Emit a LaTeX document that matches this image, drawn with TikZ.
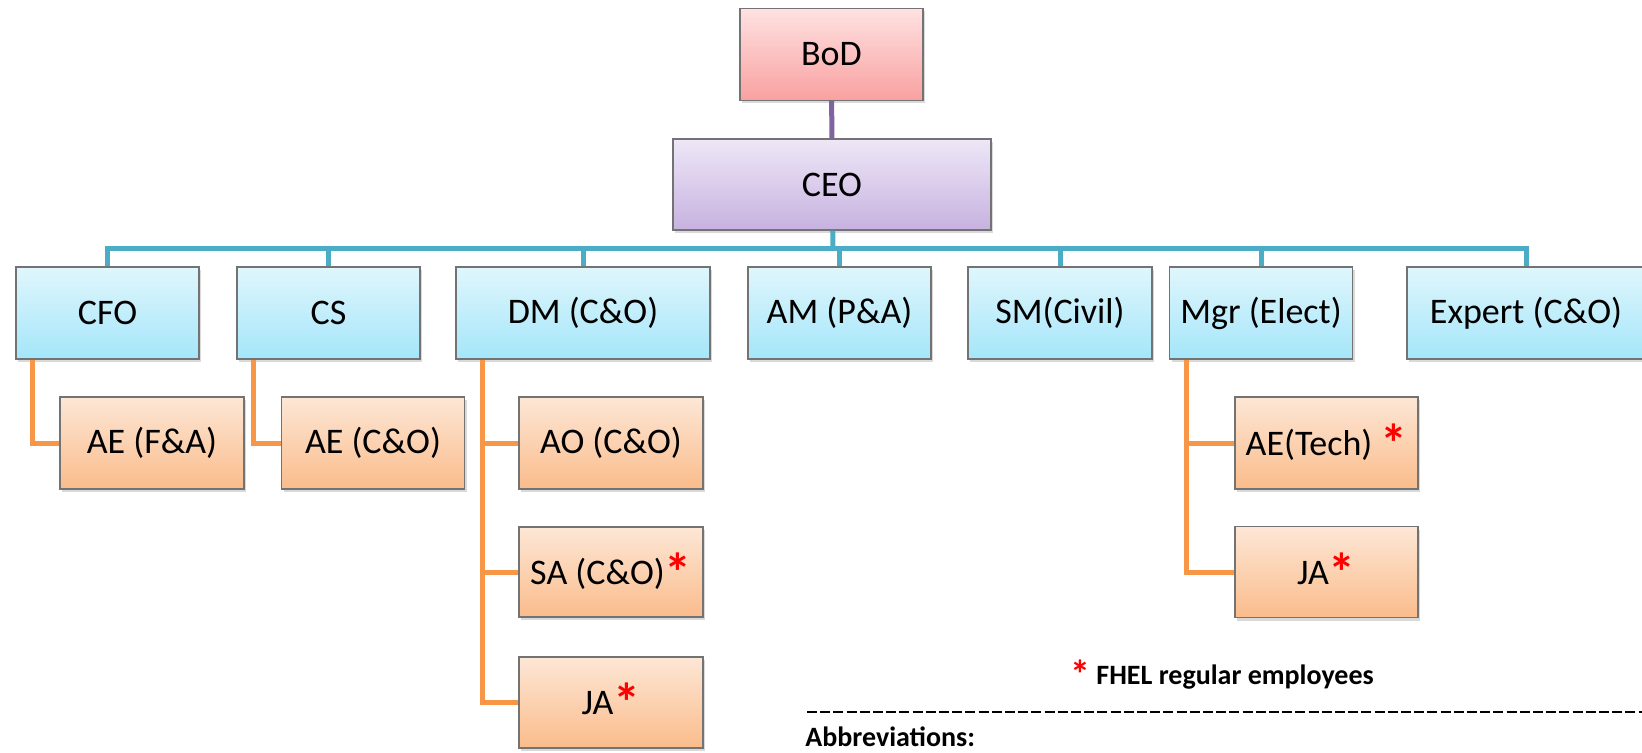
\documentclass[tikz,border=0pt]{standalone}
\usepackage{fontspec}
\setmainfont{Carlito}
\usetikzlibrary{shadows}
\definecolor{bodtop}{HTML}{FFE2E2}
\definecolor{bodbot}{HTML}{F9A0A0}
\definecolor{ceotop}{HTML}{EEE7F7}
\definecolor{ceobot}{HTML}{C7B2E0}
\definecolor{headtop}{HTML}{E0F6FC}
\definecolor{headbot}{HTML}{A4E6FA}
\definecolor{stafftop}{HTML}{FDE7D6}
\definecolor{staffbot}{HTML}{FABC8B}
\definecolor{busline}{HTML}{4BACC6}
\definecolor{bodline}{HTML}{8064A2}
\definecolor{staffline}{HTML}{F79646}
\newcommand{\fhel}{\textcolor{red}{\raisebox{-3.5pt}{\fontsize{27}{27}\selectfont\bfseries *}}}

\begin{document}
\begin{tikzpicture}[x=0.5pt,y=-0.5pt,
    box/.style={draw=black!55, line width=0.6pt, inner sep=0pt,
      minimum width=91.5pt, minimum height=46pt,
      font=\fontsize{18}{22}\selectfont,
      drop shadow={shadow xshift=1.2pt, shadow yshift=-1.5pt, opacity=0.3}},
    bodbox/.style={box, top color=bodtop, bottom color=bodbot},
    ceobox/.style={box, top color=ceotop, bottom color=ceobot},
    headbox/.style={box, top color=headtop, bottom color=headbot},
    staffbox/.style={box, top color=stafftop, bottom color=staffbot},
    buslink/.style={draw=busline, line width=2.5pt},
    bodlink/.style={draw=bodline, line width=2.5pt},
    stafflink/.style={draw=staffline, line width=2.5pt}]
  \useasboundingbox (0,0) rectangle (1642,753);

  \node[bodbox] (bod) at (831.5,54.5) {BoD};
  \node[ceobox, minimum width=159pt, minimum height=45.5pt] (ceo) at (832,184.5) {CEO};

  \node[headbox] (cfo) at (107.5,313) {CFO};
  \node[headbox] (cs) at (328.5,313) {CS};
  \node[headbox, minimum width=127pt] (dm) at (583,313) {DM (C\&O)};
  \node[headbox] (am) at (839.5,313) {AM (P\&A)};
  \node[headbox, minimum width=92pt] (sm) at (1060,313) {SM(Civil)};
  \node[headbox] (mgr) at (1261,313) {Mgr (Elect)};
  \node[headbox, minimum width=119pt] (expert) at (1526,313) {Expert (C\&O)};

  \node[staffbox, minimum width=92pt] (aefa) at (152,443) {AE (F\&A)};
  \node[staffbox] (aeco) at (373,443) {AE (C\&O)};
  \node[staffbox, minimum width=92pt] (ao) at (611,443) {AO (C\&O)};
  \node[staffbox, minimum width=92pt, minimum height=45pt] (sa) at (611,572) {SA (C\&O)\fhel};
  \node[staffbox, minimum width=92pt, minimum height=45.5pt] (ja) at (611,702.5) {JA\fhel};
  \node[staffbox] (aetech) at (1326.5,443) {AE(Tech) \fhel};
  \node[staffbox, minimum height=45.5pt] (jae) at (1326.5,572) {JA\fhel};

  \coordinate (bus) at (833,249);
  \draw[bodlink] (bod) -- (ceo);
  \draw[buslink] (ceo) -- (bus);
  \foreach \h in {cfo,cs,dm,am,sm,mgr,expert}
    \draw[buslink] (bus) -| (\h.north);

  \draw[stafflink] ([xshift=8.5pt]cfo.south west) |- (aefa.west);
  \draw[stafflink] ([xshift=8.5pt]cs.south west) |- (aeco.west);
  \foreach \s in {ao,sa,ja}
    \draw[stafflink] ([xshift=13.5pt]dm.south west) |- (\s.west);
  \foreach \s in {aetech,jae}
    \draw[stafflink] ([xshift=9pt]mgr.south west) |- (\s.west);

  \node[font=\fontsize{14}{17}\selectfont\bfseries] (note) at (1222,675)
    {\textcolor{red}{\raisebox{-2pt}{\fontsize{20}{20}\selectfont *}} FHEL regular employees};
  \coordinate (rulel) at (807,712);
  \coordinate (ruler) at (1642,712);
  \draw[line width=1.2pt, dash pattern=on 5pt off 1.6pt] (rulel) -- (ruler);
  \node[anchor=west, inner sep=1pt, font=\fontsize{14}{17}\selectfont\bfseries] (abbr) at (803,737) {Abbreviations:};
\end{tikzpicture}
\end{document}
